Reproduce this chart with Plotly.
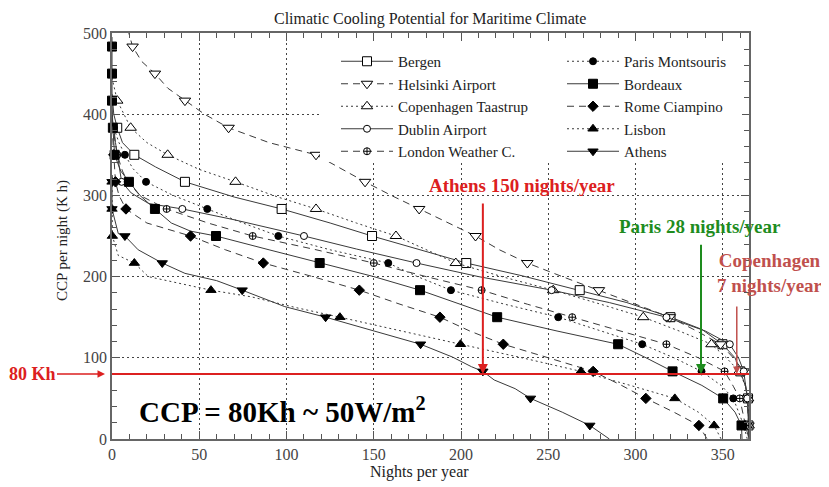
import plotly.graph_objects as go

# ---------------- data ----------------
series_names = ["Bergen", "Helsinki Airport", "Copenhagen Taastrup", "Dublin Airport",
                "London Weather C.", "Paris Montsouris", "Bordeaux", "Rome Ciampino",
                "Lisbon", "Athens"]

bergen_nights = [0, 1, 3, 6, 12.8, 25, 41.8, 70, 97.2, 125, 149, 175, 203, 235, 268, 295, 320, 338, 349.8, 357, 360, 363, 364.4, 364.7, 365]
bergen_ccp = [425, 400, 383.3, 365, 350, 335, 316.7, 298, 283.3, 266, 250, 234, 216.7, 201, 183.3, 168, 150, 135, 116.7, 100, 83.3, 65, 50, 16.7, 0]
bergen_mk_nights = [3, 12.8, 41.8, 97.2, 149, 203, 268, 320, 349.8, 360, 364.4, 364.7]
bergen_mk_ccp = [383.3, 350, 316.7, 283.3, 250, 216.7, 183.3, 150, 116.7, 83.3, 50, 16.7]

helsinki_nights = [9, 11.8, 17, 24.6, 32, 41.8, 53, 66.8, 90, 116.9, 130, 145, 160, 176, 192, 208.3, 222, 238, 258, 279, 300, 319.6, 335, 348.7, 356, 362, 364, 364.7, 365]
helsinki_ccp = [505, 483.3, 465, 450, 432, 416.7, 400, 383.3, 365, 350, 334, 316.7, 300, 283.3, 266, 250, 233, 216.7, 200, 183.3, 166, 150, 133, 116.7, 100, 83.3, 50, 16.7, 0]
helsinki_mk_nights = [11.8, 24.6, 41.8, 66.8, 116.9, 145, 176, 208.3, 238, 279, 319.6, 348.7, 362, 364, 364.7]
helsinki_mk_ccp = [483.3, 450, 416.7, 383.3, 350, 316.7, 283.3, 250, 216.7, 183.3, 150, 116.7, 83.3, 50, 16.7]

copenhagen_nights = [0, 3, 10.7, 20, 31.9, 50, 70.8, 95, 116.9, 140, 162.7, 180, 197, 225, 252.8, 280, 304.4, 325, 343.5, 352, 359.4, 363, 364.5, 364.8, 365]
copenhagen_ccp = [445, 416.7, 383.3, 365, 350, 332, 316.7, 298, 283.3, 266, 250, 233, 216.7, 199, 183.3, 166, 150, 133, 116.7, 100, 83.3, 65, 50, 16.7, 0]
copenhagen_mk_nights = [3, 10.7, 31.9, 70.8, 116.9, 162.7, 197, 252.8, 304.4, 343.5, 359.4, 364.5, 364.8]
copenhagen_mk_ccp = [416.7, 383.3, 350, 316.7, 283.3, 250, 216.7, 183.3, 150, 116.7, 83.3, 50, 16.7]

dublin_nights = [0, 1, 2, 3, 4, 5.5, 11, 21, 40.3, 70, 110, 140, 174.5, 210, 251.9, 285, 317.7, 340, 354, 359, 362, 364, 364.8, 365]
dublin_ccp = [395, 383.3, 365, 350, 333, 316.7, 303, 290, 283.3, 270, 250, 234, 216.7, 200, 183.3, 168, 150, 133, 116.7, 100, 83.3, 50, 16.7, 0]
dublin_mk_nights = [1, 3, 5.5, 40.3, 110, 174.5, 251.9, 317.7, 354, 362, 364, 364.8]
dublin_mk_ccp = [383.3, 350, 316.7, 283.3, 250, 216.7, 183.3, 150, 116.7, 83.3, 50, 16.7]

london_nights = [0, 1.5, 3, 6, 9, 16, 31.3, 55, 80.6, 115, 150, 180, 211.8, 238, 263.7, 290, 317.7, 336, 351, 356, 359.7, 363, 365]
london_ccp = [390, 370, 350, 330, 316.7, 300, 283.3, 266, 250, 234, 216.7, 200, 183.3, 166, 150, 133, 116.7, 100, 83.3, 65, 50, 16.7, 0]
london_mk_nights = [3, 9, 31.3, 80.6, 150, 211.8, 263.7, 317.7, 351, 359.7, 363]
london_mk_ccp = [350, 316.7, 283.3, 250, 216.7, 183.3, 150, 116.7, 83.3, 50, 16.7]

paris_nights = [0, 1, 4, 7.4, 12, 19.5, 35, 54.6, 75, 95.3, 125, 158.3, 175, 194.2, 225, 255.7, 280, 303.8, 322, 337.8, 349, 356, 362, 364]
paris_ccp = [395, 383.3, 365, 350, 333, 316.7, 300, 283.3, 266, 250, 233, 216.7, 200, 183.3, 166, 150, 133, 116.7, 100, 83.3, 66, 50, 16.7, 0]
paris_mk_nights = [1, 7.4, 19.5, 54.6, 95.3, 158.3, 194.2, 255.7, 303.8, 337.8, 356, 362]
paris_mk_ccp = [383.3, 350, 316.7, 283.3, 250, 216.7, 183.3, 150, 116.7, 83.3, 50, 16.7]

bordeaux_nights = [0, 0, 0, 0, 0.5, 1.5, 5, 9.7, 16, 24.6, 34, 45, 59.6, 90, 119, 150, 176.5, 200, 220.7, 255, 290, 306, 321.2, 338, 350.2, 357, 360.7, 361]
bordeaux_ccp = [495, 483.3, 450, 416.7, 383.3, 350, 330, 316.7, 300, 283.3, 266, 256, 250, 233, 216.7, 200, 183.3, 166, 150, 133, 116.7, 100, 83.3, 66, 50, 33, 16.7, 0]
bordeaux_mk_nights = [0, 0, 0, 0.5, 1.5, 9.7, 24.6, 59.6, 119, 176.5, 220.7, 290, 321.2, 350.2, 360.7]
bordeaux_mk_ccp = [483.3, 450, 416.7, 383.3, 350, 316.7, 283.3, 250, 216.7, 183.3, 150, 116.7, 83.3, 50, 16.7]

rome_nights = [0, 1, 2, 4, 8, 20, 45, 65, 86.7, 115, 141.7, 165, 187.9, 205, 224.2, 250, 275.7, 292, 305.9, 322, 336.3, 341]
rome_ccp = [385, 350, 316.7, 300, 283.3, 266, 250, 233, 216.7, 200, 183.3, 166, 150, 133, 116.7, 100, 83.3, 66, 50, 33, 16.7, 0]
rome_mk_nights = [1, 2, 8, 45, 86.7, 141.7, 187.9, 224.2, 275.7, 305.9, 336.3]
rome_mk_ccp = [350, 316.7, 283.3, 250, 216.7, 183.3, 150, 116.7, 83.3, 50, 16.7]

lisbon_nights = [0, 0, 0, 0.2, 3.6, 12.8, 20.8, 34, 56.7, 80, 105, 130.6, 165, 199.7, 235, 268.7, 297, 322.5, 336, 345, 349]
lisbon_ccp = [325, 316.7, 283.3, 250, 226, 216.7, 200, 194, 183.3, 175, 162, 150, 133, 116.7, 100, 83.3, 66, 50, 33, 16.7, 0]
lisbon_mk_nights = [0, 0, 0.2, 12.8, 56.7, 130.6, 199.7, 268.7, 322.5, 345]
lisbon_mk_ccp = [316.7, 283.3, 250, 216.7, 183.3, 150, 116.7, 83.3, 50, 16.7]

athens_nights = [0, 0, 0, 3.6, 7.4, 15, 28.8, 41.8, 60, 74.6, 99, 122.4, 150, 176.8, 195, 206, 212.5, 219, 231, 239.8, 258, 273.8, 285]
athens_ccp = [325, 316.7, 283.3, 253, 250, 233, 216.7, 204, 195, 183.3, 163, 150, 133, 116.7, 101, 89, 83.3, 72.7, 62, 50, 33, 16.7, 0]
athens_mk_nights = [0, 0, 7.4, 28.8, 74.6, 122.4, 176.8, 212.5, 239.8, 273.8]
athens_mk_ccp = [316.7, 283.3, 250, 216.7, 183.3, 150, 116.7, 83.3, 50, 16.7]

x_tick_values = [0, 50, 100, 150, 200, 250, 300, 350]
y_tick_values = [0, 100, 200, 300, 400, 500]
threshold_ccp = 80
athens_night = 212.5
paris_night = 337.5
copenhagen_night = 358

curves = [
    (bergen_nights, bergen_ccp, bergen_mk_nights, bergen_mk_ccp),
    (helsinki_nights, helsinki_ccp, helsinki_mk_nights, helsinki_mk_ccp),
    (copenhagen_nights, copenhagen_ccp, copenhagen_mk_nights, copenhagen_mk_ccp),
    (dublin_nights, dublin_ccp, dublin_mk_nights, dublin_mk_ccp),
    (london_nights, london_ccp, london_mk_nights, london_mk_ccp),
    (paris_nights, paris_ccp, paris_mk_nights, paris_mk_ccp),
    (bordeaux_nights, bordeaux_ccp, bordeaux_mk_nights, bordeaux_mk_ccp),
    (rome_nights, rome_ccp, rome_mk_nights, rome_mk_ccp),
    (lisbon_nights, lisbon_ccp, lisbon_mk_nights, lisbon_mk_ccp),
    (athens_nights, athens_ccp, athens_mk_nights, athens_mk_ccp),
]

# ---------------- styles ----------------
DASH = "7px,5px"
DOT = "2px,3px"
styles = [
    dict(dash="solid", symbol="square", size=9, fill="white"),
    dict(dash=DASH, symbol="triangle-down", size=10, fill="white"),
    dict(dash=DOT, symbol="triangle-up", size=10, fill="white"),
    dict(dash="solid", symbol="circle", size=7, fill="white"),
    dict(dash=DASH, symbol="circle-cross", size=7, fill="white"),
    dict(dash=DOT, symbol="circle", size=7, fill="black"),
    dict(dash="solid", symbol="square", size=9, fill="black"),
    dict(dash=DASH, symbol="diamond", size=8, fill="black"),
    dict(dash=DOT, symbol="triangle-up", size=9, fill="black"),
    dict(dash="solid", symbol="triangle-down", size=9, fill="black"),
]

LINE_COL = "#3a3a3a"
FONT = "Liberation Serif"

fig = go.Figure()
for i, (name, (cx, cy, mx, my), st) in enumerate(zip(series_names, curves, styles)):
    fig.add_trace(go.Scatter(x=cx, y=cy, mode="lines", showlegend=False,
                             line=dict(color=LINE_COL, width=1, dash=st["dash"]),
                             hoverinfo="skip"))
    mk = dict(symbol=st["symbol"], size=st["size"], color=st["fill"],
              line=dict(color="black", width=1))
    fig.add_trace(go.Scatter(x=mx, y=my, mode="markers", showlegend=False,
                             marker=mk, cliponaxis=False, name=name))
    fig.add_trace(go.Scatter(x=[None], y=[None], mode="lines+markers", name=name,
                             line=dict(color=LINE_COL, width=1, dash=st["dash"]),
                             marker=mk, legend="legend" if i < 5 else "legend2"))

# page has an 8px body margin: reference pixel coords are shifted by OFF
OFF = 8
L, R, T, B = 112, 749, 33, 439          # plot area in reference pixels
W, H = 829 - OFF, 487 - OFF
pw, ph = R - L, B - T

def px(xp):
    return (xp - L) / pw

def py(yp):
    return (B - yp) / ph

RED = "#dc2020"
GREEN = "#1e8c1e"
ROSE = "#c0504d"

legend_common = dict(xanchor="left", yanchor="top", bgcolor="rgba(0,0,0,0)",
                     font=dict(family=FONT, size=15, color="#222"),
                     tracegroupgap=0, itemwidth=52)

fig.update_layout(
    width=W, height=H, autosize=False,
    margin=dict(l=L - OFF, r=W - (R - OFF), t=T - OFF, b=H - (B - OFF)),
    paper_bgcolor="white", plot_bgcolor="white",
    font=dict(family=FONT, color="#333"),
    legend=dict(x=px(336), y=py(45), **legend_common),
    legend2=dict(x=px(562), y=py(45), **legend_common),
    xaxis=dict(range=[0, 365], tickvals=x_tick_values, ticks="inside", ticklen=8,
               tickcolor="#555", minor=dict(dtick=10, tick0=0, ticks="inside", ticklen=5, tickcolor="#555"),
               showline=True, linecolor="#666", linewidth=1.5, mirror="allticks",
               showgrid=True, gridcolor="#444", griddash=DOT, gridwidth=1, zeroline=False,
               tickfont=dict(family=FONT, size=16, color="#444")),
    yaxis=dict(range=[0, 500], tickvals=y_tick_values, ticks="inside", ticklen=8,
               tickcolor="#555", minor=dict(dtick=20, tick0=0, ticks="inside", ticklen=5, tickcolor="#555"),
               showline=True, linecolor="#666", linewidth=1.5, mirror="allticks",
               showgrid=True, gridcolor="#444", griddash=DOT, gridwidth=1, zeroline=False,
               tickfont=dict(family=FONT, size=16, color="#444")),
)

# white box behind the legend (covers grid and curves)
fig.add_shape(type="rect", xref="paper", yref="paper",
              x0=px(320), x1=px(742), y0=py(162), y1=py(42),
              fillcolor="white", line=dict(width=0), layer="above")
# 80 Kh threshold line
fig.add_shape(type="line", xref="x", yref="y", x0=0, x1=365,
              y0=threshold_ccp, y1=threshold_ccp,
              line=dict(color=RED, width=2), layer="above")

C = dict(xanchor="center", yanchor="middle", showarrow=False)
ann = []
ann.append(dict(text="Climatic Cooling Potential for Maritime Climate", xref="paper", yref="paper",
                x=px(430), y=py(19), font=dict(family=FONT, size=16, color="#222"), **C))
ann.append(dict(text="Nights per year", xref="paper", yref="paper",
                x=px(419), y=py(472), font=dict(family=FONT, size=16, color="#222"), **C))
ann.append(dict(text="CCP per night (K h)", xref="paper", yref="paper", textangle=-90,
                x=px(62), y=py(241), font=dict(family=FONT, size=15, color="#222"), **C))
# arrows
ann.append(dict(text="", x=athens_night, y=threshold_ccp, xref="x", yref="y",
                ax=athens_night, ay=292, axref="x", ayref="y", showarrow=True,
                arrowhead=2, arrowsize=1, arrowwidth=2, arrowcolor=RED))
ann.append(dict(text="", x=paris_night, y=threshold_ccp, xref="x", yref="y",
                ax=paris_night, ay=241, axref="x", ayref="y", showarrow=True,
                arrowhead=2, arrowsize=1, arrowwidth=2, arrowcolor=GREEN))
ann.append(dict(text="", x=copenhagen_night, y=threshold_ccp, xref="x", yref="y",
                ax=copenhagen_night, ay=165, axref="x", ayref="y", showarrow=True,
                arrowhead=2, arrowsize=1, arrowwidth=1.5, arrowcolor=ROSE))
ann.append(dict(text="<b>80 Kh</b>", x=px(105), y=threshold_ccp, xref="paper", yref="y",
                ax=-73, ay=0, showarrow=True, arrowhead=2, arrowsize=1, arrowwidth=1.5,
                arrowcolor=RED, font=dict(family=FONT, size=18, color=RED)))
# labels
ann.append(dict(text="<b>Athens 150 nights/year</b>", xref="paper", yref="paper",
                x=px(522), y=py(185), font=dict(family=FONT, size=19, color=RED), **C))
ann.append(dict(text="<b>Paris 28 nights/year</b>", xref="paper", yref="paper",
                x=px(700), y=py(226), font=dict(family=FONT, size=19, color=GREEN), **C))
ann.append(dict(text="<b>Copenhagen<br>7 nights/year</b>", xref="paper", yref="paper",
                x=px(770), y=py(273), align="center",
                font=dict(family=FONT, size=19, color=ROSE), **C))
ann.append(dict(text="<b>CCP = 80Kh ~ 50W/m<sup>2</sup></b>", xref="paper", yref="paper",
                x=px(137), y=py(410), xanchor="left", yanchor="middle", showarrow=False,
                font=dict(family=FONT, size=29, color="black")))
fig.update_layout(annotations=ann)

fig.write_html("out.html")
